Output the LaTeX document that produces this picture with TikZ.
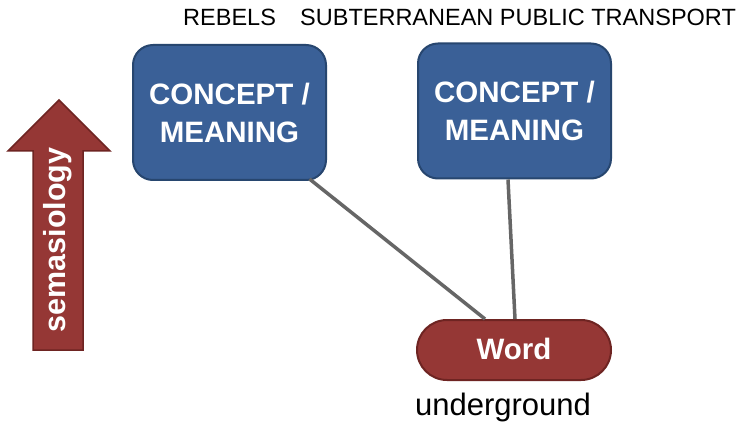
\documentclass[tikz,border=0pt]{standalone}
\usepackage{fontspec}
\setmainfont{Liberation Sans}
\definecolor{cblue}{HTML}{3A6097}
\definecolor{cblueb}{HTML}{27466F}
\definecolor{cred}{HTML}{953735}
\definecolor{credb}{HTML}{6E2422}
\definecolor{cline}{HTML}{666666}
\begin{document}
\begin{tikzpicture}[x=1pt,y=-1pt,
  concept/.style={draw=cblueb, line width=2pt, fill=cblue, rounded corners=20pt,
    minimum width=193pt, minimum height=135pt, inner sep=0pt, text=white,
    font=\fontsize{29.5}{38}\selectfont\bfseries, align=center},
  wordbox/.style={draw=credb, line width=2pt, fill=cred, rounded corners=30pt,
    minimum width=194pt, minimum height=60pt, inner sep=0pt, text=white,
    font=\fontsize{29.5}{34}\selectfont\bfseries},
  link/.style={draw=cline, line width=3.5pt},
  toplabel/.style={font=\fontsize{23.5}{28}\selectfont, anchor=base west, inner sep=0pt}
]
\useasboundingbox (0,0) rectangle (750,422);
\fill[white] (0,0) rectangle (750,422);
% semasiology arrow
\filldraw[fill=cred, draw=credb, line width=1.5pt, line join=miter]
  (59,100) -- (110,151) -- (83,151) -- (83,350) -- (33,350) -- (33,151) -- (8,151) -- cycle;
\node[rotate=90, text=white, font=\fontsize{30.5}{34}\selectfont\bfseries, inner sep=0pt] (sem) at (58,240) {semasiology};
% concepts
\node[concept] (c1) at (229.5,112.5) {CONCEPT /\\MEANING};
\node[concept] (c2) at (514.5,111) {CONCEPT /\\MEANING};
% word
\node[wordbox] (w) at (514,350) {\raisebox{3pt}{Word}};
% links
\draw[link] ([xshift=80pt,yshift=2pt]c1.south) -- ([xshift=-29pt]w.north);
\draw[link] ([xshift=-6.5pt]c2.south) -- ([xshift=1pt]w.north);
% labels
\node[toplabel] (reb) at (183,26) {REBELS};
\node[toplabel] (sub) at (300,26) {SUBTERRANEAN PUBLIC TRANSPORT};
\node[font=\fontsize{31}{36}\selectfont, anchor=base, inner sep=0pt] (und) at (503,415) {underground};
\end{tikzpicture}
\end{document}
